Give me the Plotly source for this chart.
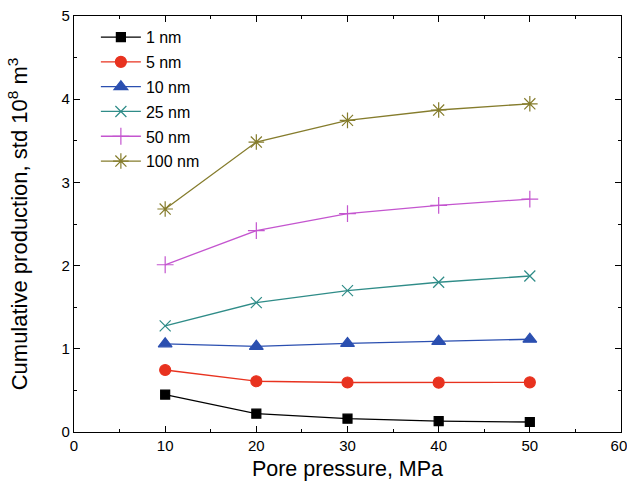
import plotly.graph_objects as go

pressure = [10, 20, 30, 40, 50]
names = ["1 nm", "5 nm", "10 nm", "25 nm", "50 nm", "100 nm"]
prod_1nm = [0.45, 0.22, 0.16, 0.13, 0.12]
prod_5nm = [0.745, 0.61, 0.595, 0.593, 0.597]
prod_10nm = [1.06, 1.03, 1.065, 1.09, 1.115]
prod_25nm = [1.275, 1.555, 1.70, 1.80, 1.875]
prod_50nm = [2.01, 2.42, 2.625, 2.725, 2.80]
prod_100nm = [2.68, 3.485, 3.745, 3.87, 3.945]
series = [prod_1nm, prod_5nm, prod_10nm, prod_25nm, prod_50nm, prod_100nm]
x_ticks = [0, 10, 20, 30, 40, 50, 60]
x_ticktext = ["0", "10", "20", "30", "40", "50", "60&nbsp;"]

colors = ["#000000", "#e8321f", "#2b4fb0", "#2f8c88", "#c455cf", "#857c2c"]
symbols = ["square", "circle", "triangle-up", "x-thin-open", "cross-thin-open", "asterisk-open"]
sizes = [9, 11, 12, 11, 12, 13]

fig = go.Figure()
for i, (nm, ys) in enumerate(zip(names, series)):
    fig.add_trace(go.Scatter(
        x=pressure, y=ys, name=nm, mode="lines+markers",
        legendgroup=nm,
        line=dict(color=colors[i], width=1.3),
        marker=dict(symbol=symbols[i], size=sizes[i], color=colors[i],
                    line=dict(color=colors[i], width=1.2)),
    ))

font = "Liberation Sans, Arial, sans-serif"
axis_common = dict(
    showline=True, linecolor="black", linewidth=1.2, mirror="ticks",
    ticks="inside", ticklen=6, tickwidth=1, tickcolor="black",
    showgrid=False, zeroline=False, automargin=False,
    tickfont=dict(family=font, size=15, color="black"),
    minor=dict(ticks="inside", ticklen=3, tickwidth=1, tickcolor="black"),
)
fig.update_layout(
    width=627, height=492,
    margin=dict(l=74, r=6, t=16, b=60),
    paper_bgcolor="white", plot_bgcolor="white",
    font=dict(family=font, color="black"),
    xaxis=dict(range=[0, 60], tickmode="array", tickvals=x_ticks, ticktext=x_ticktext,
               ticklabeloverflow="allow",
               title=dict(text="Pore pressure, MPa", font=dict(size=21.5), standoff=7), **axis_common),
    yaxis=dict(range=[0, 5], dtick=1,
               title=dict(text="Cumulative production, std 10<sup>8</sup> m<sup>3</sup>", font=dict(size=22), standoff=27), **axis_common),
    legend=dict(x=0.04, y=0.99, xanchor="left", yanchor="top", bgcolor="rgba(0,0,0,0)",
                font=dict(family=font, size=16, color="black"), tracegroupgap=1,
                itemwidth=40),
    showlegend=True,
)
fig.update_xaxes(minor=dict(dtick=5))
fig.update_yaxes(minor=dict(dtick=0.5))
# remove the default page margin so the 627x492 figure fills the window exactly
fig.write_html("out.html", config={"displayModeBar": False},
               post_script="document.body.style.margin='0';document.body.style.overflow='hidden';")
